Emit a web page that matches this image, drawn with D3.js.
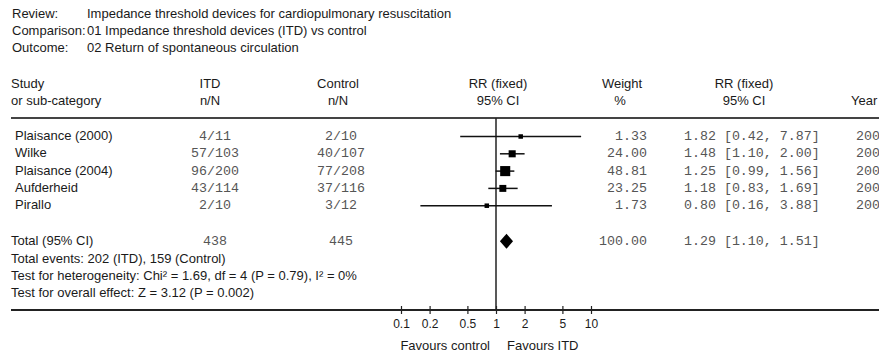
<!DOCTYPE html>
<html><head><meta charset="utf-8">
<script src="https://cdn.jsdelivr.net/npm/d3@7"></script>
<style>html,body{margin:0;padding:0;background:#fff}svg{display:block}</style>
</head><body>
<svg id="chart" width="879" height="354"></svg>
<script>
const headerLabels = ["Review:", "Comparison:", "Outcome:"];
const headerValues = ["Impedance threshold devices for cardiopulmonary resuscitation",
  "01 Impedance threshold devices (ITD) vs control",
  "02 Return of spontaneous circulation"];
const studies = ["Plaisance (2000)", "Wilke", "Plaisance (2004)", "Aufderheid", "Pirallo"];
const itdNN = ["4/11", "57/103", "96/200", "43/114", "2/10"];
const controlNN = ["2/10", "40/107", "77/208", "37/116", "3/12"];
const rr = [1.82, 1.48, 1.25, 1.18, 0.80];
const lower = [0.42, 1.10, 0.99, 0.83, 0.16];
const upper = [7.87, 2.00, 1.56, 1.69, 3.88];
const weights = [1.33, 24.00, 48.81, 23.25, 1.73];
const years = ["2000", "2000", "2004", "2005", "2006"];
const total = {label: "Total (95% CI)", itd: "438", control: "445", rr: 1.29, lower: 1.10, upper: 1.51, weight: 100.00};
const footerLines = ["Total events: 202 (ITD), 159 (Control)",
  "Test for heterogeneity: Chi\u00B2 = 1.69, df = 4 (P = 0.79), I\u00B2 = 0%",
  "Test for overall effect: Z = 3.12 (P = 0.002)"];
const tickValues = [0.1, 0.2, 0.5, 1, 2, 5, 10];
const tickLabels = ["0.1", "0.2", "0.5", "1", "2", "5", "10"];

const svg = d3.select("#chart");
const sans = "'Liberation Sans', Arial, sans-serif";
const mono = "'Liberation Mono', 'Courier New', monospace";
const ink = "#1a1a1a";
const monoInk = "#555";
const sansSize = 13;
const monoSize = 13.3;

const x = d3.scaleLog().domain([0.1, 10]).range([401, 591]);
const y = d3.scaleLinear().domain([0, 1]).range([136.5, 153.8]);
const boxSize = d3.scaleSqrt().domain([0, 50]).range([0, 10.2]);

function txt(xp, yp, s, opts = {}) {
  return svg.append("text").attr("x", xp).attr("y", yp)
    .attr("font-family", opts.font || sans).attr("font-size", opts.size || sansSize)
    .attr("fill", opts.fill || ink).attr("text-anchor", opts.anchor || "start")
    .attr("dominant-baseline", "middle").text(s);
}
const fmt2 = d3.format(".2f");
const monoOpts = (anchor) => ({font: mono, size: monoSize, fill: monoInk, anchor: anchor || "start"});

// header block
headerLabels.forEach((l, i) => {
  txt(12, 15 + i * 17, l);
  txt(87, 15 + i * 17, headerValues[i]);
});

// column headers
txt(11, 85, "Study"); txt(11, 102, "or sub-category");
txt(210, 85, "ITD", {anchor: "middle"}); txt(210, 102, "n/N", {anchor: "middle"});
txt(338, 85, "Control", {anchor: "middle"}); txt(338, 102, "n/N", {anchor: "middle"});
txt(498, 85, "RR (fixed)", {anchor: "middle"}); txt(498, 102, "95% CI", {anchor: "middle"});
txt(622, 85, "Weight", {anchor: "middle"}); txt(620, 102, "%", {anchor: "middle"});
txt(744, 85, "RR (fixed)", {anchor: "middle"}); txt(744, 102, "95% CI", {anchor: "middle"});
txt(851, 102, "Year");

// rules
svg.append("line").attr("x1", 11).attr("x2", 879).attr("y1", 118).attr("y2", 118)
  .attr("stroke", "#444").attr("stroke-width", 2);
svg.append("line").attr("x1", 11).attr("x2", 879).attr("y1", 310).attr("y2", 310)
  .attr("stroke", "#222").attr("stroke-width", 2);
// line of no effect
svg.append("line").attr("x1", x(1)).attr("x2", x(1)).attr("y1", 118).attr("y2", 310)
  .attr("stroke", "#222").attr("stroke-width", 1.5);

// study rows
studies.forEach((s, i) => {
  const yy = y(i);
  txt(15, yy, s);
  txt(215, yy, itdNN[i], monoOpts("middle"));
  txt(341, yy, controlNN[i], monoOpts("middle"));
  svg.append("line").attr("x1", x(lower[i])).attr("x2", x(upper[i])).attr("y1", yy).attr("y2", yy)
    .attr("stroke", "#111").attr("stroke-width", 1.5);
  const b = Math.max(4.5, boxSize(weights[i]));
  svg.append("rect").attr("x", x(rr[i]) - b / 2).attr("y", yy - b / 2).attr("width", b).attr("height", b)
    .attr("fill", "#000");
  txt(647, yy, fmt2(weights[i]), monoOpts("end"));
  txt(684, yy, `${fmt2(rr[i])} [${fmt2(lower[i])}, ${fmt2(upper[i])}]`, monoOpts());
  txt(856, yy, years[i], monoOpts());
});

// total row
const ty = y(6.05);
txt(11, ty, total.label);
txt(215, ty, total.itd, monoOpts("middle"));
txt(341, ty, total.control, monoOpts("middle"));
svg.append("path")
  .attr("d", `M${x(total.lower)},${ty} L${x(total.rr)},${ty - 7.5} L${x(total.upper)},${ty} L${x(total.rr)},${ty + 7.5} Z`)
  .attr("fill", "#000");
txt(647, ty, fmt2(total.weight), monoOpts("end"));
txt(684, ty, `${fmt2(total.rr)} [${fmt2(total.lower)}, ${fmt2(total.upper)}]`, monoOpts());

footerLines.forEach((l, i) => txt(11, y(7.1 + i), l));

// axis
const axis = d3.axisBottom(x).tickValues(tickValues).tickFormat((d, i) => tickLabels[i]).tickSize(4).tickPadding(5);
const g = svg.append("g").attr("transform", "translate(0,310)").call(axis);
g.select(".domain").remove();
g.selectAll(".tick line").attr("y1", -4).attr("y2", 4).attr("stroke", "#222").attr("stroke-width", 1.2);
g.selectAll(".tick text").attr("font-family", sans).attr("font-size", 12).attr("fill", ink);

txt(490, 347, "Favours control", {anchor: "end", size: 13});
txt(507, 347, "Favours ITD", {size: 13});
</script>
</body></html>
